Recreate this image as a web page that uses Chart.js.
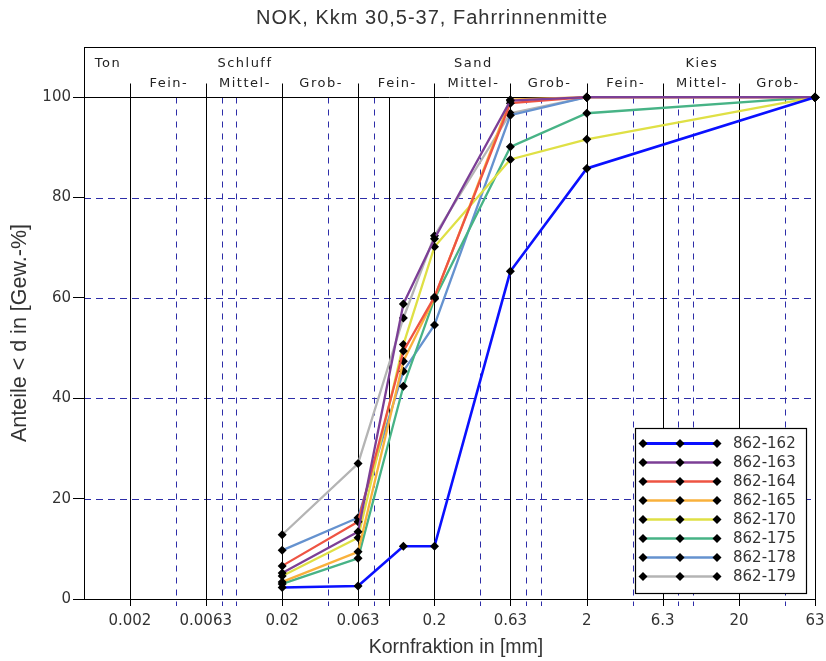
<!DOCTYPE html>
<html>
<head>
<meta charset="utf-8">
<script src="https://cdn.jsdelivr.net/npm/chart.js@4/dist/chart.umd.min.js"></script>
<style>
  html, body { margin: 0; padding: 0; background: #fff; }
  #wrap { width: 826px; height: 661px; position: relative; }
</style>
</head>
<body>
<div id="wrap"><canvas id="c"></canvas></div>
<script>
// Sieve sizes in mm (x values of every curve)
const sieveSizes = [0.02, 0.063, 0.125, 0.2, 0.63, 2, 63];

// Cumulative passing in % for each sample
const s162 = [2.3, 2.6, 10.5, 10.5, 65.3, 85.8, 100];
const s163 = [5.2, 13.4, 58.8, 71.8, 99.3, 100, 100];
const s164 = [6.6, 15.4, 49.4, 60.2, 98.8, 100, 100];
const s165 = [3.4, 9.4, 47.4, 60.0, 99.5, 100, 100];
const s170 = [4.6, 12.2, 50.7, 70.2, 87.6, 91.6, 100];
const s175 = [3.0, 8.1, 42.4, 59.8, 90.1, 96.8, 100];
const s178 = [9.7, 16.2, 45.4, 54.6, 96.4, 100, 100];
const s179 = [12.8, 27.0, 56.0, 72.4, 96.8, 100, 100];

const sampleNames = ['862-162', '862-163', '862-164', '862-165', '862-170', '862-175', '862-178', '862-179'];
const sampleValues = [s162, s163, s164, s165, s170, s175, s178, s179];

// Axis tick labels
const xTickLabels = [0.002, 0.0063, 0.02, 0.063, 0.2, 0.63, 2, 6.3, 20, 63];
const yTickLabels = [0, 20, 40, 60, 80, 100];

// Grain class boundaries (solid) and sub-divisions (dashed)
const classBoundaries = [0.002, 0.0063, 0.02, 0.063, 0.2, 0.63, 2, 6.3, 20];
const extraSolid = [0.1];
const subDivisions = [0.004, 0.008, 0.01, 0.04, 0.08, 0.4, 0.8, 1, 4, 8, 10, 40];

// Header texts: main classes and their sub-ranges
const mainClasses = [['Ton', 0.001, 0.002], ['Schluff', 0.0063, 0.02], ['Sand', 0.2, 0.63], ['Kies', 6.3, 20]];
const subClasses = [
  ['Fein-', 0.002, 0.0063], ['Mittel-', 0.0063, 0.02], ['Grob-', 0.02, 0.063],
  ['Fein-', 0.063, 0.2], ['Mittel-', 0.2, 0.63], ['Grob-', 0.63, 2],
  ['Fein-', 2, 6.3], ['Mittel-', 6.3, 20], ['Grob-', 20, 63]
];

const seriesColors = ['#0a10ff', '#7c3f96', '#ee5443', '#f9b13c', '#dfe045', '#47b386', '#6592cf', '#b4b4b4'];
const seriesWidths = [2.6, 2.3, 2.3, 2.3, 2.3, 2.3, 2.3, 2.3];

const chartTitle = 'NOK, Kkm 30,5-37, Fahrrinnenmitte';
const xTitle = 'Kornfraktion in [mm]';
const yTitle = 'Anteile < d in [Gew.-%]';

const gridBlue = '#2d2da8';
const labelFont = '"DejaVu Sans", sans-serif';
const titleFont = '"Liberation Sans", Arial, sans-serif';

function seg(ctx, x1, y1, x2, y2) {
  ctx.beginPath(); ctx.moveTo(x1, y1); ctx.lineTo(x2, y2); ctx.stroke();
}
function diamond(ctx, x, y, r) {
  ctx.beginPath();
  ctx.moveTo(x, y - r); ctx.lineTo(x + r, y); ctx.lineTo(x, y + r); ctx.lineTo(x - r, y);
  ctx.closePath(); ctx.fill();
}

// Grid, frame, class header and titles
const grainGrid = {
  id: 'grainGrid',
  beforeDatasetsDraw(chart) {
    const { ctx, chartArea: a, scales: { x, y } } = chart;
    const y100 = Math.round(y.getPixelForValue(100)) + 0.5;
    const px = v => Math.round(x.getPixelForValue(v)) + 0.5;
    ctx.save();
    ctx.lineWidth = 1;
    // dashed horizontals
    ctx.strokeStyle = gridBlue;
    ctx.setLineDash([7, 5]);
    for (const v of [20, 40, 60, 80]) {
      const py = Math.round(y.getPixelForValue(v)) + 0.5;
      seg(ctx, a.left, py, a.right, py);
    }
    // dashed verticals
    ctx.setLineDash([6, 6]);
    for (const v of subDivisions) seg(ctx, px(v), y100, px(v), a.bottom + 7);
    ctx.setLineDash([]);
    // solid verticals
    ctx.strokeStyle = '#000';
    for (const v of classBoundaries.concat(extraSolid)) seg(ctx, px(v), y100, px(v), a.bottom + 7);
    // header ticks
    for (const v of classBoundaries) seg(ctx, px(v), y100 - 14, px(v), y100);
    // 100 % line and frame
    seg(ctx, a.left, y100, a.right, y100);
    ctx.strokeRect(Math.round(a.left) + 0.5, Math.round(a.top) + 0.5, Math.round(a.right - a.left), Math.round(a.bottom - a.top));
    seg(ctx, px(63), a.bottom, px(63), a.bottom + 7);
    seg(ctx, a.left - 11, Math.round(a.bottom) + 0.5, a.left, Math.round(a.bottom) + 0.5);
    // header labels
    ctx.fillStyle = '#222';
    ctx.font = '13px ' + labelFont;
    ctx.letterSpacing = '1.5px';
    ctx.textAlign = 'center';
    ctx.textBaseline = 'middle';
    const mid = (lo, hi) => Math.sqrt(lo * hi);
    for (const [t, lo, hi] of mainClasses) ctx.fillText(t, x.getPixelForValue(mid(lo, hi)) + 1, y100 - 34);
    for (const [t, lo, hi] of subClasses) ctx.fillText(t, x.getPixelForValue(mid(lo, hi)) + 1, y100 - 14);
    // chart title
    ctx.letterSpacing = '1px';
    ctx.font = '20px ' + titleFont;
    ctx.fillStyle = '#333';
    ctx.fillText(chartTitle, 432, 18);
    // axis titles
    ctx.letterSpacing = '0px';
    ctx.font = '19.5px ' + titleFont;
    ctx.fillText(xTitle, 456, 648);
    ctx.save();
    ctx.translate(20, 333);
    ctx.rotate(-Math.PI / 2);
    ctx.font = '21.5px ' + titleFont;
    ctx.fillText(yTitle, 0, 0);
    ctx.restore();
    ctx.restore();
  },
  afterDatasetsDraw(chart) {
    const { ctx } = chart;
    // legend box
    const bx = 635.5, by = 428.5, bw = 171, bh = 165;
    ctx.save();
    ctx.fillStyle = '#fff';
    ctx.fillRect(bx, by, bw, bh);
    ctx.strokeStyle = '#000';
    ctx.lineWidth = 1.2;
    ctx.strokeRect(bx, by, bw, bh);
    ctx.font = '15px ' + labelFont;
    ctx.textAlign = 'left';
    ctx.textBaseline = 'middle';
    sampleNames.forEach((name, i) => {
      const ry = 443.5 + i * 19;
      ctx.strokeStyle = seriesColors[i];
      ctx.lineWidth = seriesWidths[i] + 0.4;
      seg(ctx, 643, ry, 717, ry);
      ctx.fillStyle = '#000';
      for (const mx of [643, 680, 717]) diamond(ctx, mx, ry, 4.5);
      ctx.fillStyle = '#333';
      ctx.fillText(name, 733, ry + 1);
    });
    ctx.restore();
  }
};

const datasets = sampleNames.map((name, i) => ({
  label: name,
  data: sieveSizes.map((d, k) => ({ x: d, y: sampleValues[i][k] })),
  borderColor: seriesColors[i],
  borderWidth: seriesWidths[i],
  pointStyle: 'rectRot',
  pointRadius: 4.5,
  pointHoverRadius: 4.5,
  pointBackgroundColor: '#000',
  pointBorderColor: '#000',
  pointBorderWidth: 0,
  tension: 0,
  fill: false,
  clip: 8
}));

new Chart(document.getElementById('c'), {
  type: 'line',
  data: { datasets },
  plugins: [grainGrid],
  options: {
    responsive: true,
    maintainAspectRatio: false,
    animation: false,
    events: [],
    layout: { padding: { top: 47, right: 11, left: 0, bottom: 0 } },
    plugins: { legend: { display: false }, title: { display: false }, tooltip: { enabled: false } },
    scales: {
      x: {
        type: 'logarithmic',
        min: 0.001,
        max: 63,
        afterBuildTicks: s => { s.ticks = xTickLabels.map(v => ({ value: v })); },
        afterFit: s => { s.height = 62; s.paddingLeft = 0; s.paddingRight = 0; },
        grid: { display: false, drawTicks: false },
        border: { display: false },
        ticks: {
          autoSkip: false,
          maxRotation: 0,
          padding: 13,
          color: '#333',
          font: { family: labelFont, size: 15 },
          callback: v => String(v)
        },
        title: { display: false }
      },
      y: {
        type: 'linear',
        min: 0,
        max: 110,
        afterBuildTicks: s => { s.ticks = yTickLabels.map(v => ({ value: v })); },
        afterFit: s => { s.width = 84; s.paddingTop = 0; s.paddingBottom = 0; },
        grid: { display: true, drawOnChartArea: false, drawTicks: true, tickLength: 11, color: '#000' },
        border: { display: false },
        ticks: {
          padding: 2,
          color: '#333',
          font: { family: labelFont, size: 15 },
          callback: v => String(v)
        },
        title: { display: false }
      }
    }
  }
});
</script>
</body>
</html>
